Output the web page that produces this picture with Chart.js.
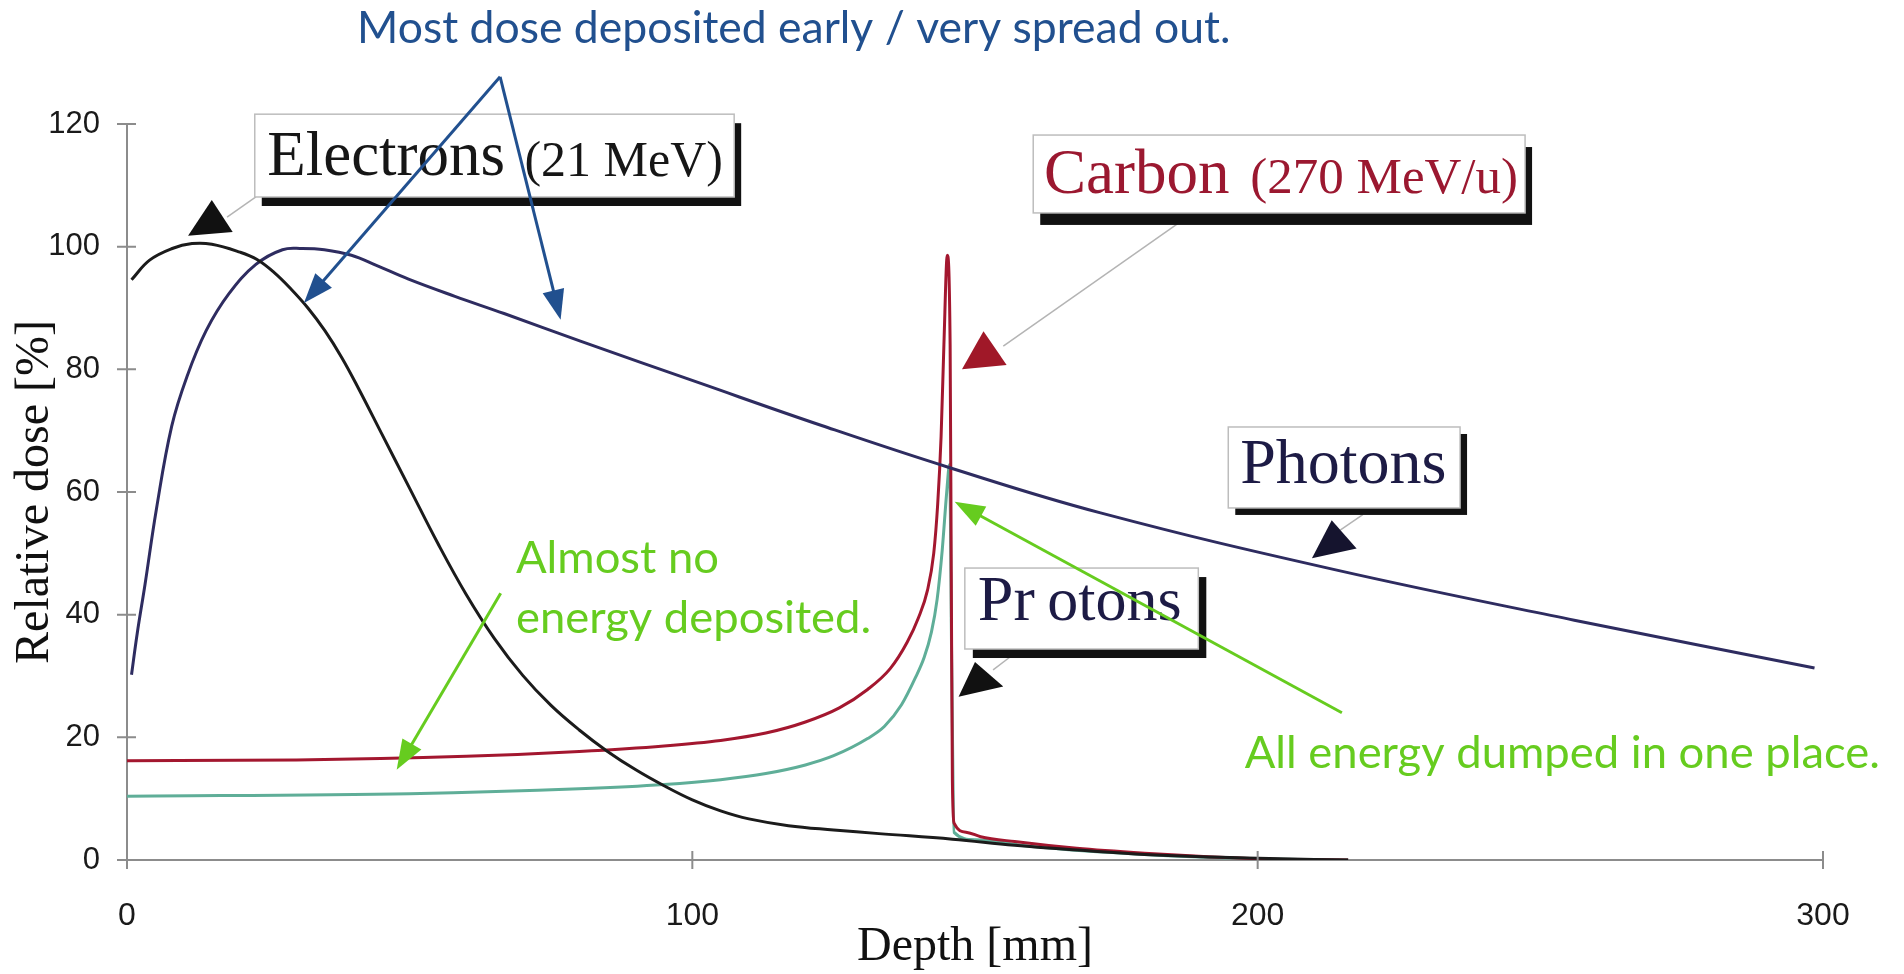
<!DOCTYPE html>
<html>
<head>
<meta charset="utf-8">
<title>Depth dose curves</title>
<script src="https://cdn.jsdelivr.net/npm/chart.js@4.4.1/dist/chart.umd.min.js"></script>
<style>
  html, body { margin: 0; padding: 0; background: #fff; }
  canvas { display: block; }
</style>
</head>
<body>
<canvas id="dose" width="1904" height="974"></canvas>
<script>
// depth [mm] / relative dose [%]
const electronDepth = [0.8, 4, 8, 11.5, 15, 20, 23, 26, 29, 32, 35, 38, 41, 45, 50, 55, 60, 65, 70, 75, 80, 85, 90, 95, 100, 105, 110, 117, 125, 133, 146, 157, 170, 180, 192, 204, 216];
const electronDose  = [94.6, 97.8, 99.7, 100.5, 100.4, 99.1, 97.9, 95.8, 93.1, 90.0, 86.3, 81.9, 76.8, 69.6, 60.6, 51.6, 43.3, 36.1, 30.1, 25.2, 21.2, 17.7, 14.7, 12.1, 9.8, 8.0, 6.7, 5.6, 4.9, 4.3, 3.4, 2.4, 1.5, 0.9, 0.5, 0.2, 0];

const photonDepth = [0.8, 1.8, 3.2, 5.2, 7.9, 10.6, 14, 18, 22.8, 27.5, 31, 34.9, 39.7, 44, 49.8, 58, 66.7, 80.2, 101.5, 123, 145.4, 172.2, 213.8, 256, 298.5];
const photonDose  = [30.2, 36.9, 45, 57.2, 70.7, 78.8, 86.3, 92.3, 97.1, 99.5, 99.7, 99.5, 98.6, 97.0, 94.7, 91.9, 89.1, 84.6, 77.7, 70.8, 64, 56.6, 47.3, 39.1, 31.3];

const carbonDepth = [0, 30, 60, 80, 95, 105, 113, 120, 126, 131, 135, 138, 140, 141.6, 142.7, 143.4, 144, 144.5, 145.1, 145.6, 145.8, 146.0, 146.3, 148.6, 151, 157, 168, 180, 192, 204, 216];
const carbonDose  = [16.2, 16.3, 16.9, 17.7, 18.6, 19.5, 20.7, 22.5, 24.8, 27.8, 31.2, 35.5, 39.5, 44, 50, 58, 69, 84, 98.6, 84, 47, 13, 6, 4.5, 3.8, 3.0, 1.9, 1.1, 0.5, 0.1, 0];

const protonDepth = [0, 50, 80, 95, 105, 113, 120, 125, 131, 134, 137, 139.5, 141, 142.3, 143.3, 144.2, 145, 145.5, 145.9, 146.3, 150, 160, 180, 200, 216];
const protonDose  = [10.4, 10.8, 11.6, 12.3, 13.1, 14.1, 15.5, 17.0, 19.8, 21.8, 25.3, 29.8, 33.0, 37.2, 42.5, 50.5, 60, 64.5, 30, 4.5, 3.3, 2.2, 0.9, 0.2, 0];

const xTicks = [0, 100, 200, 300];
const yTicks = [0, 20, 40, 60, 80, 100, 120];

const toPoints = (xs, ys) => xs.map((v, i) => ({ x: v, y: ys[i] }));

// smooth curves use bezier tension, the sharp Bragg peaks use monotone splines
function series(label, xs, ys, color, sharp) {
  const ds = {
    label, data: toPoints(xs, ys),
    borderColor: color, borderWidth: 3,
    pointRadius: 0, fill: false
  };
  if (sharp) ds.cubicInterpolationMode = 'monotone';
  else ds.tension = 0.4;
  return ds;
}

// label boxes (data coordinates), callouts, arrows
const boxes = [
  { x0: 22.6, x1: 107.4, y0: 108.1, y1: 121.6, dx: 7, dy: 9,
    parts: [{ t: 'Electrons', x: 24.8, y: 111.7, size: 63, color: '#161616' },
            { t: '(21 MeV)', x: 70.3, y: 111.6, size: 50, color: '#161616' }] },
  { x0: 160.3, x1: 247.3, y0: 105.5, y1: 118.2, dx: 7, dy: 12,
    parts: [{ t: 'Carbon', x: 162.2, y: 108.8, size: 63, color: '#9b1830' },
            { t: '(270 MeV/u)', x: 198.7, y: 108.8, size: 51, color: '#9b1830' }] },
  { x0: 194.8, x1: 235.8, y0: 57.4, y1: 70.6, dx: 7, dy: 7,
    parts: [{ t: 'Photons', x: 196.9, y: 61.5, size: 64, color: '#1d1b45' }] },
  { x0: 148.2, x1: 189.5, y0: 34.4, y1: 47.6, dx: 8, dy: 9,
    parts: [{ t: 'Pr', x: 150.5, y: 39.1, size: 64, color: '#1d1b45' },
            { t: 'otons', x: 162.8, y: 39.1, size: 62, color: '#1d1b45' }] }
];

const pointers = [
  { pts: [[10.8, 101.8], [15.0, 107.6], [18.7, 102.4]], color: '#111', lead: [[17.7, 104.8], [22.8, 108.1]] },
  { pts: [[147.7, 80.0], [151.5, 86.2], [155.6, 80.7]], color: '#a01828', lead: [[155.0, 83.8], [187.0, 104.5]] },
  { pts: [[209.6, 49.2], [213.1, 55.4], [217.5, 50.8]], color: '#15142e', lead: [[214.6, 53.8], [218.6, 56.3]] },
  { pts: [[147.1, 26.6], [150.0, 32.3], [155.0, 28.3]], color: '#111', lead: [[153.2, 31.0], [156.2, 33.1]] }
];

const blue = '#21508f';
const green = '#66cc1f';
const notes = [
  { lines: ['Most dose deposited early / very spread out.'], x: 40.7, y: 133.2, fitWidth: 874, color: blue },
  { lines: ['Almost no', 'energy deposited.'], x: 68.8, y: 46.8, lineGap: 9.8, fitWidth: 355, fitLine: 1, color: green },
  { lines: ['All energy dumped in one place.'], x: 197.7, y: 15.0, fitWidth: 635, color: green }
];

const arrows = [
  { from: [66.0, 127.7], to: [31.3, 90.8], color: blue },
  { from: [66.0, 127.7], to: [76.7, 88.1], color: blue },
  { from: [66.1, 43.5], to: [47.7, 14.7], color: green },
  { from: [214.9, 24.0], to: [146.4, 58.4], color: green }
];

const overlay = {
  id: 'overlay',
  afterDatasetsDraw(chart) {
    const { ctx, chartArea: area, scales: { x, y } } = chart;
    const X = v => x.getPixelForValue(v);
    const Y = v => y.getPixelForValue(v);
    ctx.save();

    // tick marks crossing the axes
    ctx.strokeStyle = '#8c8c8c';
    ctx.lineWidth = 2;
    ctx.beginPath();
    x.ticks.forEach(t => { const p = X(t.value); ctx.moveTo(p, area.bottom - 9); ctx.lineTo(p, area.bottom + 9); });
    y.ticks.forEach(t => { const p = Y(t.value); ctx.moveTo(area.left - 10, p); ctx.lineTo(area.left + 9, p); });
    ctx.stroke();

    // grey leader lines and pointer triangles
    pointers.forEach(p => {
      ctx.strokeStyle = '#b4b4b4';
      ctx.lineWidth = 1.5;
      ctx.beginPath();
      ctx.moveTo(X(p.lead[0][0]), Y(p.lead[0][1]));
      ctx.lineTo(X(p.lead[1][0]), Y(p.lead[1][1]));
      ctx.stroke();
      ctx.fillStyle = p.color;
      ctx.beginPath();
      p.pts.forEach((q, i) => i ? ctx.lineTo(X(q[0]), Y(q[1])) : ctx.moveTo(X(q[0]), Y(q[1])));
      ctx.closePath();
      ctx.fill();
    });

    // label boxes with drop shadow
    boxes.forEach(b => {
      const l = X(b.x0), r = X(b.x1), t = Y(b.y1), bt = Y(b.y0);
      ctx.fillStyle = '#111';
      ctx.fillRect(l + b.dx, t + b.dy, r - l, bt - t);
      ctx.fillStyle = '#fff';
      ctx.fillRect(l, t, r - l, bt - t);
      ctx.strokeStyle = '#bdbdbd';
      ctx.lineWidth = 1.5;
      ctx.strokeRect(l, t, r - l, bt - t);
      ctx.textBaseline = 'alphabetic';
      ctx.textAlign = 'left';
      b.parts.forEach(p => {
        ctx.fillStyle = p.color;
        ctx.font = p.size + 'px "Liberation Serif", "Times New Roman", serif';
        ctx.fillText(p.t, X(p.x), Y(p.y));
      });
    });

    // annotation arrows
    arrows.forEach(a => {
      const x1 = X(a.from[0]), y1 = Y(a.from[1]), x2 = X(a.to[0]), y2 = Y(a.to[1]);
      const ang = Math.atan2(y2 - y1, x2 - x1);
      const head = 30, half = 11;
      const bx = x2 - head * Math.cos(ang), by = y2 - head * Math.sin(ang);
      ctx.strokeStyle = a.color;
      ctx.fillStyle = a.color;
      ctx.lineWidth = 3;
      ctx.beginPath();
      ctx.moveTo(x1, y1);
      ctx.lineTo(bx + 4 * Math.cos(ang), by + 4 * Math.sin(ang));
      ctx.stroke();
      ctx.beginPath();
      ctx.moveTo(x2, y2);
      ctx.lineTo(bx + half * Math.sin(ang), by - half * Math.cos(ang));
      ctx.lineTo(bx - half * Math.sin(ang), by + half * Math.cos(ang));
      ctx.closePath();
      ctx.fill();
    });

    // annotation text
    notes.forEach(n => {
      ctx.font = '40px Lato, "Noto Sans", sans-serif';
      const w = ctx.measureText(n.lines[n.fitLine || 0]).width;
      const size = 40 * n.fitWidth / w;
      ctx.font = size.toFixed(1) + 'px Lato, "Noto Sans", sans-serif';
      ctx.fillStyle = n.color;
      ctx.textAlign = 'left';
      ctx.textBaseline = 'alphabetic';
      n.lines.forEach((line, i) => ctx.fillText(line, X(n.x), Y(n.y - i * (n.lineGap || 0))));
    });

    ctx.restore();
  }
};

new Chart(document.getElementById('dose'), {
  type: 'line',
  data: {
    datasets: [
      series('Electrons (21 MeV)', electronDepth, electronDose, '#1b1b1b', false),
      series('Photons', photonDepth, photonDose, '#2e2c60', false),
      series('Carbon (270 MeV/u)', carbonDepth, carbonDose, '#a3172f', true),
      series('Protons', protonDepth, protonDose, '#5fae98', true)
    ]
  },
  options: {
    responsive: false,
    animation: false,
    layout: { padding: { top: 124, right: 81, left: 0, bottom: 0 } },
    plugins: { legend: { display: false }, tooltip: { enabled: false } },
    scales: {
      x: {
        type: 'linear', min: 0, max: 300,
        afterBuildTicks: s => { s.ticks = xTicks.map(v => ({ value: v })); },
        afterFit: s => { s.height = 114; },
        grid: { display: false, drawTicks: false },
        border: { display: true, color: '#8c8c8c', width: 2 },
        ticks: { padding: 37, color: '#1a1a1a', font: { family: '"Liberation Sans", Arial, sans-serif', size: 32 } },
        title: { display: true, text: 'Depth [mm]', color: '#111', padding: { top: 0, bottom: 3 },
                 font: { family: '"Liberation Serif", "Times New Roman", serif', size: 48, lineHeight: 1 } }
      },
      y: {
        type: 'linear', min: 0, max: 120,
        afterBuildTicks: s => { s.ticks = yTicks.map(v => ({ value: v })); },
        afterFit: s => { s.width = 127; },
        grid: { display: false, drawTicks: false },
        border: { display: true, color: '#8c8c8c', width: 2 },
        ticks: { padding: 27, color: '#1a1a1a', font: { family: '"Liberation Sans", Arial, sans-serif', size: 31 } },
        title: { display: true, text: 'Relative dose [%]', color: '#111', padding: { top: 7, bottom: 0 },
                 font: { family: '"Liberation Serif", "Times New Roman", serif', size: 48 } }
      }
    }
  },
  plugins: [overlay]
});
</script>
</body>
</html>
